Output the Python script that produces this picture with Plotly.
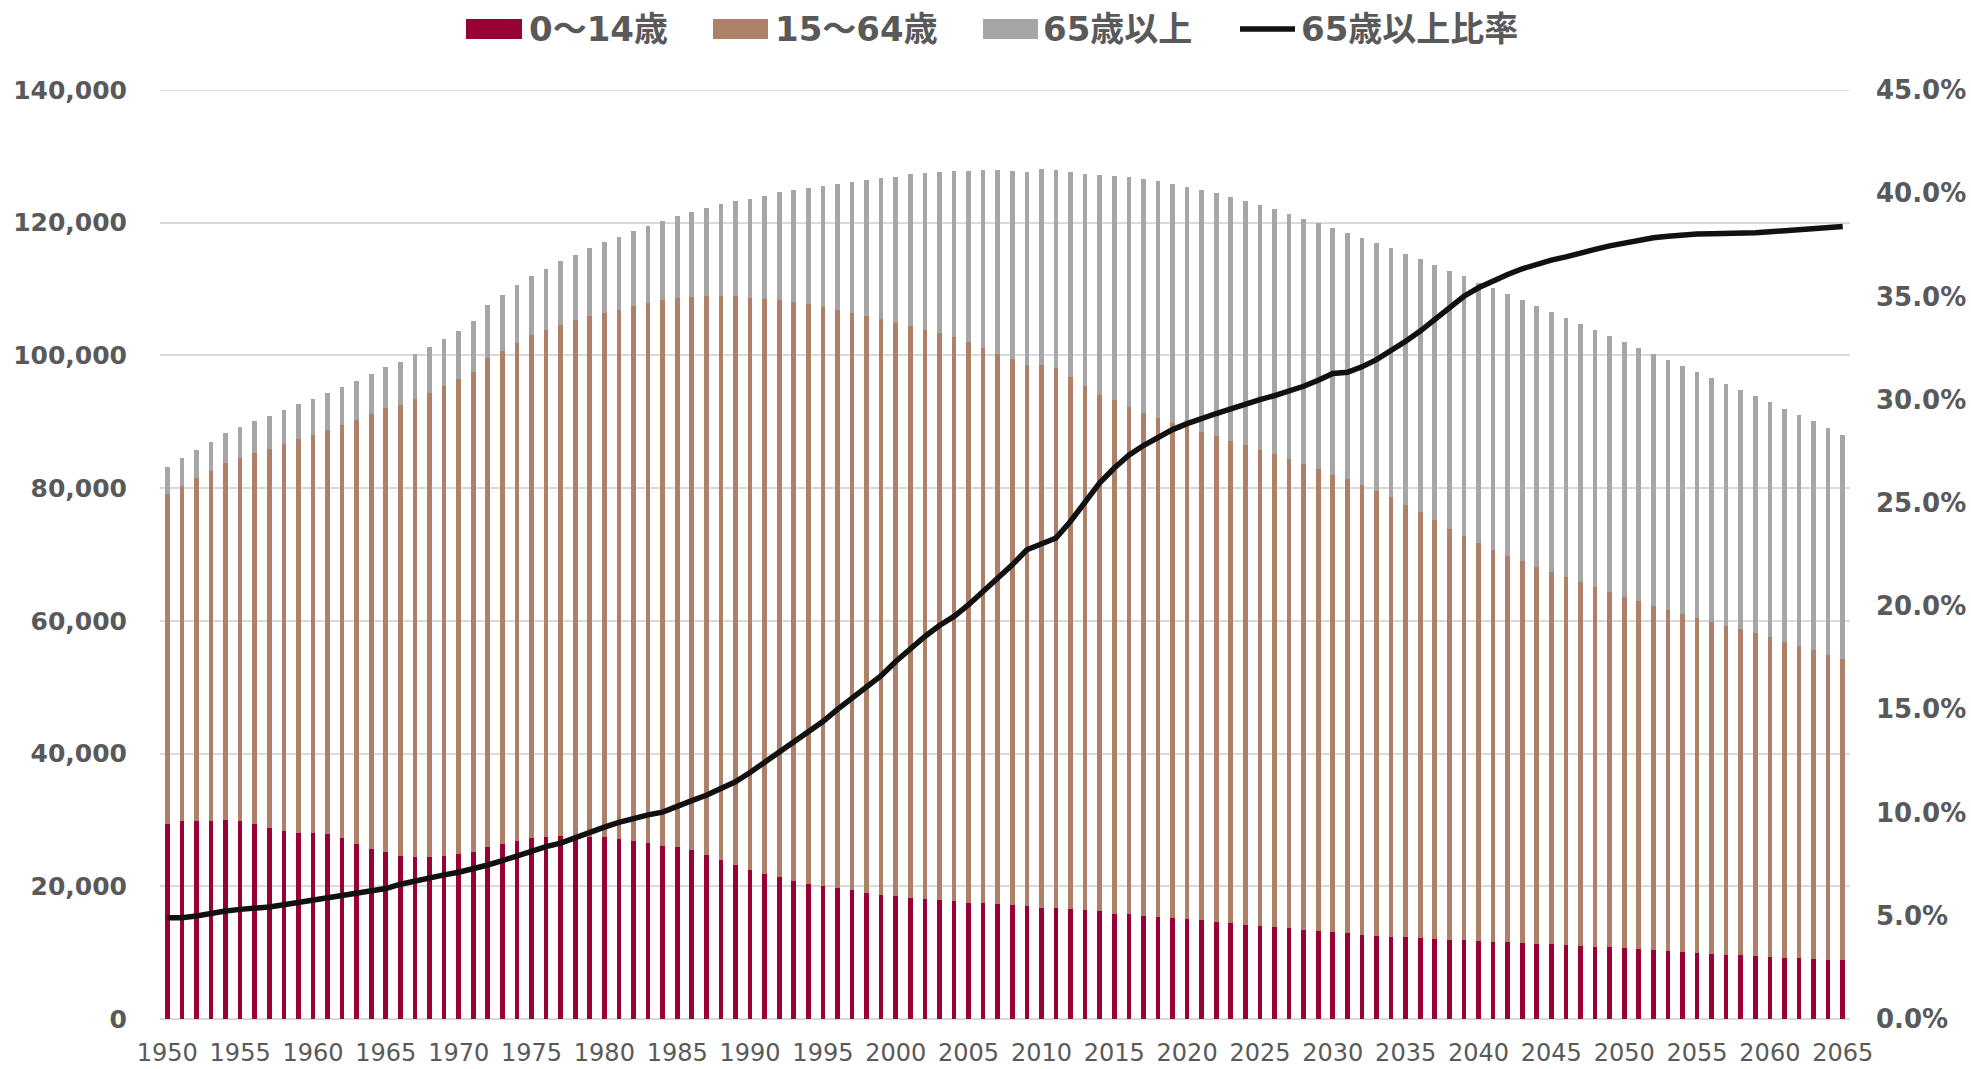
import plotly.graph_objects as go

years = list(range(1950, 2066))

age_0_14 = [
    29430, 29790, 29890, 29870, 29990, 29800, 29330, 28730, 28400, 28000,
    28070, 27900, 27270, 26390, 25580, 25200, 24500, 24450, 24450, 24600,
    24800, 25180, 25930, 26390, 26830, 27220, 27430, 27520, 27620, 27500,
    27450, 27200, 26850, 26500, 26100, 25900, 25400, 24700, 23950, 23200,
    22490, 21900, 21360, 20840, 20410, 20010, 19690, 19370, 19060, 18740,
    18470, 18280, 18100, 17910, 17730, 17520, 17430, 17290, 17180, 17010,
    16800, 16700, 16550, 16390, 16230, 15890, 15780, 15590, 15420, 15250,
    15080, 14850, 14630, 14420, 14240, 14070, 13870, 13680, 13400, 13250,
    13100, 12930, 12680, 12580, 12430, 12300, 12230, 12080, 11950, 11880,
    11800, 11650, 11580, 11470, 11370, 11250, 11130, 11020, 10910, 10780,
    10650, 10480, 10370, 10260, 10120, 9980, 9860, 9720, 9580, 9510,
    9380, 9260, 9120, 9060, 8960, 8830,
]

age_15_64 = [
    49660, 50580, 51660, 52740, 53740, 54730, 55960, 57230, 58310, 59430,
    60000, 60870, 62210, 63880, 65560, 66900, 68050, 69040, 69950, 70780,
    71590, 72330, 73630, 74330, 75000, 75850, 76460, 77100, 77650, 78370,
    78960, 79710, 80530, 81370, 82190, 82680, 83390, 84220, 84950, 85700,
    86220, 86620, 86970, 87200, 87270, 87300, 87150, 87030, 86900, 86740,
    86450, 86170, 85760, 85470, 85110, 84480, 83700, 82990, 82340, 81560,
    81770, 81370, 80250, 79050, 77860, 77390, 76490, 75780, 75150, 74610,
    74170, 73650, 73220, 72720, 72250, 71710, 71260, 70740, 70220, 69620,
    68910, 68470, 67830, 67010, 66170, 65130, 64130, 63050, 61960, 60840,
    59880, 59100, 58270, 57490, 56780, 56110, 55500, 54820, 54200, 53580,
    53000, 52470, 51930, 51370, 50880, 50460, 49970, 49540, 49120, 48590,
    48120, 47600, 47100, 46520, 45970, 45440,
]

age_65_over = [
    4110, 4170, 4260, 4370, 4510, 4750, 4880, 4970, 5060, 5210,
    5350, 5520, 5700, 5890, 6040, 6180, 6490, 6710, 6930, 7160,
    7330, 7640, 8040, 8380, 8740, 8870, 9200, 9550, 9920, 10290,
    10650, 10990, 11350, 11670, 12020, 12470, 12870, 13320, 13850, 14310,
    14900, 15580, 16240, 16900, 17590, 18260, 19020, 19760, 20510, 21190,
    22010, 22870, 23630, 24310, 24960, 25770, 26770, 27620, 28280, 29030,
    29490, 29830, 30800, 31960, 33110, 33820, 34630, 35280, 35670, 35980,
    36140, 36380, 36580, 36680, 36790, 36840, 36890, 36900, 36980, 37080,
    37190, 37110, 37180, 37350, 37580, 37850, 38160, 38490, 38850, 39180,
    39310, 39400, 39390, 39370, 39280, 39160, 38990, 38870, 38700, 38540,
    38350, 38140, 37930, 37650, 37370, 37070, 36730, 36390, 36050, 35740,
    35440, 35110, 34800, 34470, 34140, 33810,
]

ratio_65_over = [
    4.91, 4.91, 4.99, 5.12, 5.23, 5.31, 5.36, 5.43, 5.53, 5.64,
    5.77, 5.87, 5.96, 6.09, 6.22, 6.32, 6.53, 6.70, 6.85, 6.98,
    7.11, 7.27, 7.46, 7.67, 7.90, 8.14, 8.35, 8.52, 8.79, 9.05,
    9.29, 9.52, 9.73, 9.89, 10.02, 10.32, 10.58, 10.84, 11.13, 11.49,
    11.94, 12.42, 12.91, 13.41, 13.91, 14.41, 15.00, 15.55, 16.06, 16.63,
    17.32, 17.95, 18.53, 19.06, 19.50, 20.07, 20.71, 21.36, 22.00, 22.73,
    22.98, 23.30, 24.11, 25.05, 25.97, 26.69, 27.31, 27.78, 28.18, 28.55,
    28.84, 29.12, 29.33, 29.55, 29.80, 30.00, 30.20, 30.41, 30.65, 30.94,
    31.27, 31.33, 31.59, 31.94, 32.35, 32.83, 33.32, 33.88, 34.45, 35.01,
    35.42, 35.77, 36.06, 36.34, 36.56, 36.76, 36.92, 37.12, 37.28, 37.45,
    37.60, 37.73, 37.84, 37.92, 37.99, 38.02, 38.04, 38.04, 38.05, 38.09,
    38.13, 38.18, 38.23, 38.28, 38.33, 38.39,
]

tick_years = list(range(1950, 2066, 5))
left_ticks = list(range(0, 140001, 20000))
right_ticks = list(range(0, 46, 5))

series_names = ["0～14歳", "15～64歳", "65歳以上", "65歳以上比率"]
colors = ["#990033", "#AE8067", "#A6A6A6", "#111111"]

TEXT = "#595959"
GRID = "#D9D9D9"

W, H = 1971, 1069
ML, MR, MT, MB = 160, 121, 90, 50
PW, PH = W - ML - MR, H - MT - MB

fig = go.Figure()
for name, vals, col in zip(series_names[:3], [age_0_14, age_15_64, age_65_over], colors[:3]):
    fig.add_trace(go.Bar(x=years, y=vals, name=name, marker=dict(color=col, line=dict(width=0)),
                         showlegend=False))
fig.add_trace(go.Scatter(x=years, y=ratio_65_over, name=series_names[3], mode="lines",
                         line=dict(color=colors[3], width=5.5), yaxis="y2", showlegend=False))

fig.update_layout(
    width=W, height=H,
    margin=dict(l=ML, r=MR, t=MT, b=MB, autoexpand=False),
    barmode="stack", bargap=0.68,
    plot_bgcolor="white", paper_bgcolor="white",
    font=dict(family="DejaVu Sans, Noto Sans CJK JP", color=TEXT),
    xaxis=dict(range=[1949.5, 2065.5], tickmode="array", tickvals=tick_years,
               ticktext=[str(y) for y in tick_years], showgrid=False, zeroline=False,
               showline=False, ticks="", ticklabelstandoff=17, automargin=False,
               tickfont=dict(family="DejaVu Sans", size=24, color=TEXT)),
    yaxis=dict(range=[0, 140000], tickmode="array", tickvals=left_ticks,
               ticktext=[f"{v:,}" for v in left_ticks], showgrid=True, gridcolor=GRID,
               gridwidth=1.5, zeroline=True, zerolinecolor=GRID, zerolinewidth=1.5,
               showline=False, ticks="", ticklabelstandoff=32, automargin=False,
               tickfont=dict(family="DejaVu Sans", size=25, color=TEXT, weight="bold")),
    yaxis2=dict(range=[0, 45], overlaying="y", side="right", tickmode="array",
                tickvals=right_ticks, ticktext=[f"{v:.1f}%" for v in right_ticks],
                showgrid=False, zeroline=False, showline=False, ticks="", ticklabelstandoff=25,
                automargin=False,
                tickfont=dict(family="DejaVu Sans", size=26, color=TEXT, weight="bold")),
)

# top gridline at 140,000 (range edge)
fig.add_shape(type="line", xref="paper", yref="y", x0=0, x1=1, y0=left_ticks[-1], y1=left_ticks[-1],
              line=dict(color=GRID, width=1.5), layer="below")

# manual legend (pixel positions converted to paper coordinates)
def px(x):
    return (x - ML) / PW

def py(y):
    return (H - MB - y) / PH

swatches = [(466, 522), (713, 768), (983, 1038)]
text_x = [527, 773, 1041, 1299]
for (x0, x1), col in zip(swatches, colors[:3]):
    fig.add_shape(type="rect", xref="paper", yref="paper", x0=px(x0), x1=px(x1),
                  y0=py(39), y1=py(19), fillcolor=col, line=dict(width=0))
fig.add_shape(type="line", xref="paper", yref="paper", x0=px(1240), x1=px(1295),
              y0=py(29), y1=py(29), line=dict(color=colors[3], width=5.5))
for name, tx in zip(series_names, text_x):
    fig.add_annotation(xref="paper", yref="paper", x=px(tx), y=py(29), text=name,
                       showarrow=False, xanchor="left", yanchor="middle",
                       font=dict(family="DejaVu Sans, Noto Sans CJK JP", size=34,
                                 color=TEXT, weight="bold"))

fig.write_html("out.html", config={"displayModeBar": False},
               post_script="document.body.style.margin='0';")
